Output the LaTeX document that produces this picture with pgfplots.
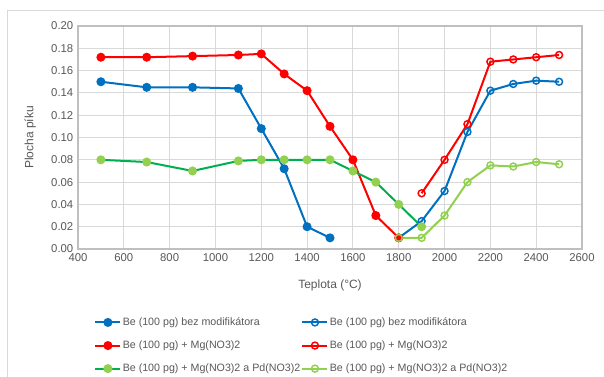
\documentclass[border=0pt]{standalone}
\usepackage{pgfplots}
\pgfplotsset{compat=1.18}
\usepackage{fontspec}
\setmainfont{Liberation Sans}
\definecolor{cblue}{HTML}{0070C0}
\definecolor{cred}{HTML}{FF0000}
\definecolor{cgreen}{HTML}{00B050}
\definecolor{clgreen}{HTML}{92D050}
\definecolor{cgrid}{HTML}{D9D9D9}
\definecolor{caxis}{HTML}{BFBFBF}
\definecolor{ctext}{HTML}{595959}
\begin{document}
\begin{tikzpicture}[x=1pt,y=1pt]
\useasboundingbox (0,0) rectangle (453,282);
\fill[white] (0,0) rectangle (453,282);
\draw[cgrid, line width=0.75pt] (5.25,-5) -- (5.25,273.75) -- (460,273.75);
\begin{axis}[
  at={(58.5pt,95.25pt)}, anchor=south west,
  scale only axis, width=378pt, height=167.25pt,
  xmin=400, xmax=2600, ymin=0, ymax=0.2,
  xtick={400,600,...,2600},
  ytick={0,0.02,...,0.201},
  major tick length=0pt,
  grid=major,
  major grid style={cgrid, line width=0.75pt},
  axis line style={caxis, line width=0.9pt},
  /pgf/number format/assume math mode=true,
  xticklabel style={font=\fontsize{8.5}{10}\selectfont, text=ctext, /pgf/number format/1000 sep={}},
  yticklabel style={font=\fontsize{8.5}{10}\selectfont, text=ctext, /pgf/number format/.cd, fixed, fixed zerofill, precision=2},
  scaled y ticks=false,
  xlabel={Teplota (°C)},
  ylabel={Plocha píku},
  xlabel style={font=\fontsize{9}{11}\selectfont, text=ctext, at={(axis description cs:0.5,-0.161)}, anchor=center},
  ylabel style={font=\fontsize{9}{11}\selectfont, text=ctext, at={(axis description cs:-0.095,0.5)}, anchor=center, rotate=0},
  legend columns=2,
  legend cell align=left,
  legend style={at={(axis description cs:0.032,-0.30)}, anchor=north west, draw=none, fill=none, inner sep=0pt,
    font=\fontsize{8}{10}\selectfont, text=ctext, row sep=8pt,
    nodes={inner sep=1pt}},
  legend image code/.code={
    \draw[mark repeat=2,mark phase=2] plot coordinates {(0cm,0cm) (0.33cm,0cm) (0.66cm,0cm)};
  },
]
\addplot[cblue, line width=1.5pt, mark=*, mark size=2.6pt, mark options={solid, fill=cblue, draw=cblue}] coordinates {
(500,0.150) (700,0.145) (900,0.145) (1100,0.144) (1200,0.108) (1300,0.072) (1400,0.020) (1500,0.010)};
\addlegendentry{\makebox[133pt][l]{Be (100 pg) bez modifikátora}}
\addplot[cblue, line width=1.5pt, mark=o, mark size=2.6pt, mark options={solid, fill=white, draw=cblue, line width=1.1pt}] coordinates {
(1800,0.010) (1900,0.025) (2000,0.052) (2100,0.105) (2200,0.142) (2300,0.148) (2400,0.151) (2500,0.150)};
\addlegendentry{Be (100 pg) bez modifikátora}
\addplot[cred, line width=1.5pt, mark=*, mark size=2.6pt, mark options={solid, fill=cred, draw=cred}] coordinates {
(500,0.172) (700,0.172) (900,0.173) (1100,0.174) (1200,0.175) (1300,0.157) (1400,0.142) (1500,0.110) (1600,0.080) (1700,0.030) (1800,0.010)};
\addlegendentry{\makebox[133pt][l]{Be (100 pg) + Mg(NO3)2}}
\addplot[cred, line width=1.5pt, mark=o, mark size=2.6pt, mark options={solid, fill=white, draw=cred, line width=1.1pt}] coordinates {
(1900,0.050) (2000,0.080) (2100,0.112) (2200,0.168) (2300,0.170) (2400,0.172) (2500,0.174)};
\addlegendentry{Be (100 pg) + Mg(NO3)2}
\addplot[cgreen, line width=1.5pt, mark=*, mark size=2.6pt, mark options={solid, fill=clgreen, draw=clgreen}] coordinates {
(500,0.080) (700,0.078) (900,0.070) (1100,0.079) (1200,0.080) (1300,0.080) (1400,0.080) (1500,0.080) (1600,0.070) (1700,0.060) (1800,0.040) (1900,0.020)};
\addlegendentry{\makebox[133pt][l]{Be (100 pg) + Mg(NO3)2 a Pd(NO3)2}}
\addplot[clgreen, line width=1.5pt, mark=o, mark size=2.6pt, mark options={solid, fill=white, draw=clgreen, line width=1.1pt}] coordinates {
(1800,0.010) (1900,0.010) (2000,0.030) (2100,0.060) (2200,0.075) (2300,0.074) (2400,0.078) (2500,0.076)};
\addlegendentry{Be (100 pg) + Mg(NO3)2 a Pd(NO3)2}
\end{axis}
\end{tikzpicture}
\end{document}
